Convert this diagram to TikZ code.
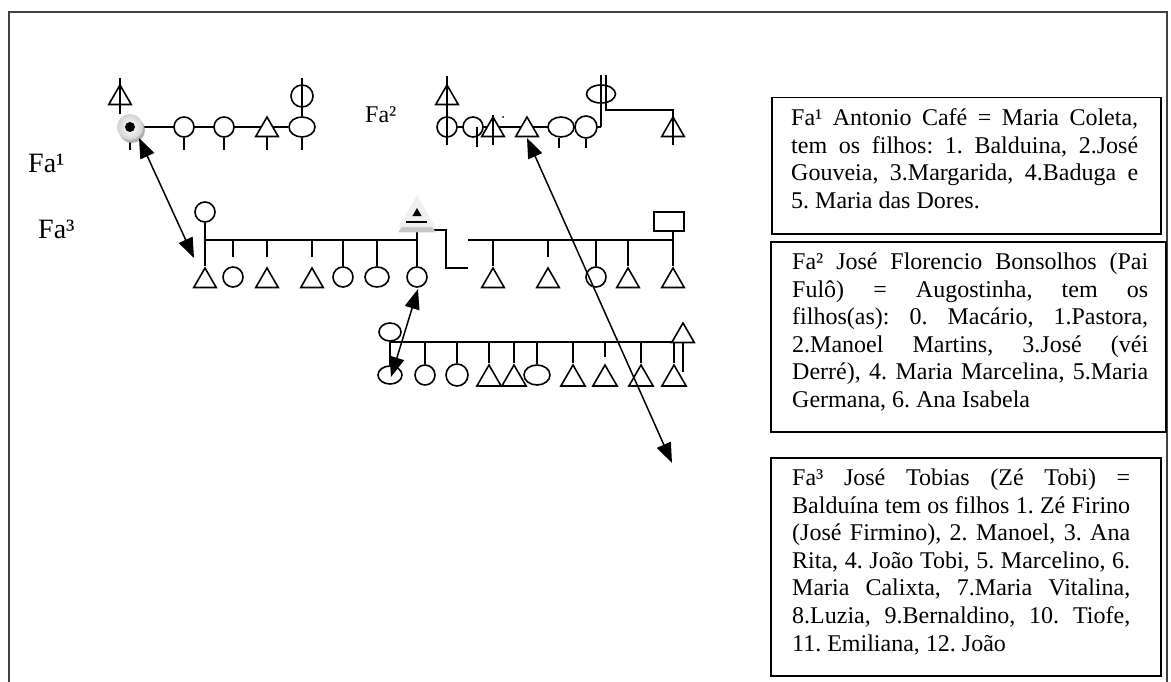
\documentclass[tikz,border=0pt]{standalone}
\usepackage{fontspec}
\setmainfont{Liberation Serif}
\usetikzlibrary{arrows.meta,shapes.geometric,shadows}
\pgfdeclarelayer{bg}
\pgfsetlayers{bg,main}
\newcommand\jl[1]{\makebox[\linewidth][s]{#1}}
\frenchspacing
\begin{document}
\begin{tikzpicture}[x=1pt,y=-1pt,
  ln/.style={line width=1.6pt},
  fem/.style={circle,draw,fill=white,line width=1.6pt,inner sep=0,minimum size=20pt},
  male/.style={regular polygon,regular polygon sides=3,draw,fill=white,line width=1.6pt,inner sep=0,minimum size=26pt},
  maleb/.style={male,minimum size=28pt},
  oval/.style={ellipse,draw,fill=white,line width=1.6pt,inner sep=0,minimum width=26pt,minimum height=20pt},
  arr/.style={line width=1.5pt,{Triangle[length=20pt,width=15pt]}-{Triangle[length=20pt,width=15pt]}},
  box/.style={draw,line width=1.5pt,inner sep=0,anchor=north west},
  txt/.style={anchor=base west,inner sep=0,font=\fontsize{24}{27.6}\selectfont},
  big/.style={anchor=base west,inner sep=0,font=\fontsize{28}{32}\selectfont}]
\useasboundingbox (0,0) rectangle (1171,682);
\draw[line width=1.2pt,black!75] (9,700) -- (9,12) -- (1167,12) -- (1167,700);

% ---------- Fa1 family ----------
\node[male] (a1) at (120,98) {};
\node[circle,minimum size=26pt,inner sep=0,shading=radial,inner color=white,outer color=gray!35,
  drop shadow={shadow xshift=2pt,shadow yshift=-3pt,fill=gray!60,opacity=1}] (ego) at (130,127) {};
\node[circle,fill=black,inner sep=0,minimum size=10pt] (egod) at (ego) {};
\node[fem] (c1) at (184,127) {};
\node[fem] (c2) at (224,127) {};
\node[male] (t1) at (267,130) {};
\node[oval] (e1) at (302,127) {};
\node[fem,minimum size=22pt] (f0) at (302,96) {};
\coordinate (a1top) at (120,78);
\coordinate (f0top) at (302,78);

% ---------- Fa2 family ----------
\node[male] (a2) at (447,98) {};
\node[fem] (b1) at (447,127) {};
\node[fem] (b2) at (473,127) {};
\node[male] (b3) at (493,130) {};
\node[circle,fill=black,inner sep=0,minimum size=2pt] (dot) at (503,117) {};
\node[male] (b4) at (527,130) {};
\node[oval] (b5) at (561,127) {};
\node[fem,minimum size=22pt] (b6) at (586,127) {};
\node[oval,minimum width=29pt,minimum height=18pt] (b7) at (601,94) {};
\node[male] (b8) at (673,130) {};
\coordinate (j1) at (601,127);
\coordinate (k1) at (606,75);
\coordinate (k2) at (606,110);

% ---------- Fa3 family ----------
\node[fem] (m0) at (205,212) {};
\node[male] (d1) at (205,281) {};
\node[fem] (d2) at (233,277) {};
\node[male] (d3) at (267,281) {};
\node[male] (d4) at (312,281) {};
\node[fem] (d5) at (343,277) {};
\node[oval,minimum width=24pt] (d6) at (377,277) {};
\node[fem] (d7) at (417,277) {};
\node[regular polygon,regular polygon sides=3,inner sep=0,minimum size=43pt,fill=gray!12,
  drop shadow={shadow xshift=0pt,shadow yshift=-5pt,fill=gray!45,opacity=1}] (g) at (417,216.5) {};
\node[regular polygon,regular polygon sides=3,inner sep=0,minimum size=11pt,fill=black] (gi) at (417,213.5) {};
\coordinate (gu1) at (406,222);
\coordinate (gu2) at (427,222);
\node[male] (d8) at (493,281) {};
\node[male] (d9) at (548,281) {};
\node[fem] (d10) at (596,277) {};
\node[male] (d11) at (628,281) {};
\node[male] (d12) at (673,281) {};
\node[draw,line width=1.6pt,fill=white,minimum width=30pt,minimum height=19pt,inner sep=0] (r) at (669,221.5) {};
\coordinate (bar1) at (205,240);
\coordinate (bar2) at (417,240);
\coordinate (bar3) at (468,240);
\coordinate (bar4) at (673,240);
\coordinate (h1) at (427,230);
\coordinate (h2) at (468,268);

% ---------- lower family ----------
\node[oval,minimum width=22pt,minimum height=18pt] (l0) at (390,332) {};
\node[oval,minimum width=24pt,minimum height=18pt] (l1) at (390,375) {};
\node[fem] (l2) at (425,375) {};
\node[fem,minimum size=22pt] (l3) at (457,375) {};
\node[maleb] (l4) at (489,379) {};
\node[maleb] (l5) at (514,379) {};
\node[oval] (l6) at (537,375) {};
\node[maleb] (l7) at (573,379) {};
\node[maleb] (l8) at (605,379) {};
\node[maleb] (l9) at (641,379) {};
\node[maleb] (l10) at (674,379) {};
\node[male] (l11) at (683,336) {};
\coordinate (bar5) at (390,342);
\coordinate (bar6) at (692,342);

% ---------- connectors behind the symbols ----------
\begin{pgfonlayer}{bg}
\draw[ln] (ego) -- (e1);
\draw[ln] (ego) -- ++(0,23);
\draw[ln] (c1) -- ++(0,23);
\draw[ln] (c2) -- ++(0,23);
\draw[ln] (t1) -- ++(0,20);
\draw[ln] (e1) -- ++(0,23);
\draw[ln] (b1) -- (j1);
\draw[ln] (m0) -- (d1);
\draw[ln] (bar1) -- (bar2);
\draw[ln] (d2 |- bar1) -- ++(0,17);
\draw[ln] (d3 |- bar1) -- ++(0,17);
\draw[ln] (d4 |- bar1) -- ++(0,17);
\draw[ln] (d5 |- bar1) -- (d5.north);
\draw[ln] (d6 |- bar1) -- (d6.north);
\draw[ln] (g.south) -- (d7.north);
\draw[ln] (h1) -- ++(19,0) |- (h2);
\draw[ln] (bar3) -- (bar4);
\draw[ln] (d8 |- bar3) -- (d8.north);
\draw[ln] (d9 |- bar3) -- ++(0,17);
\draw[ln] (d10 |- bar3) -- (d10.north);
\draw[ln] (d11 |- bar3) -- (d11.north);
\draw[ln] (r.south -| d12) -- (d12.north);
\draw[ln] (l0) -- (l1);
\draw[ln] (bar5) -- (bar6);
\draw[ln] (l2 |- bar5) -- (l2.north);
\draw[ln] (l3 |- bar5) -- (l3.north);
\draw[ln] (l4 |- bar5) -- (l4.north);
\draw[ln] (l5 |- bar5) -- (l5.north);
\draw[ln] (l6 |- bar5) -- (l6.north);
\draw[ln] (l7 |- bar5) -- (l7.north);
\draw[ln] (l8 |- bar5) -- ++(0,15);
\draw[ln] (l9 |- bar5) -- (l9.north);
\draw[ln] (l10 |- bar5) -- (l10.north);
\end{pgfonlayer}

% ---------- lines drawn through symbols ----------
\draw[ln] (a1top) -- (a1top |- ego.north);
\draw[ln] (f0top) -- (e1.north);
\draw[ln] (a2.north) ++(0,-7) -- ++(0,69);
\draw[ln] (b2.center) ++(4,0) -- ++(0,20);
\draw[ln] (b3.north) -- ++(0,30);
\draw[ln] (b5.south) ++(-2,0) -- ++(0,10);
\draw[ln] (b6.south) -- ++(0,9);
\draw[ln] (j1) -- ++(0,-52);
\draw[ln] (k1) -- (k2) -| (b8.north) -- ++(0,30);
\draw[line width=2pt] (gu1) -- (gu2);
\draw[ln] (l11.south) -- ++(0,29);

% ---------- arrows ----------
\coordinate (p1) at (139,138);
\coordinate (q1) at (194,258);
\coordinate (p2) at (418,289);
\coordinate (q2) at (391,377);
\coordinate (p3) at (527,138);
\coordinate (q3) at (672,463);
\draw[arr] (p1) -- (q1);
\draw[arr] (p2) -- (q2);
\draw[arr] (p3) -- (q3);

% ---------- labels ----------
\node[big] (fa1) at (28,173) {Fa¹};
\node[big] (fa3) at (38,238) {Fa³};
\node[txt] (fa2) at (365,123) {Fa²};

% ---------- text boxes ----------
\node[box,minimum width=389pt,minimum height=136pt] (bx1) at (771,97) {};
\node[box,minimum width=395pt,minimum height=190pt] (bx2) at (770,241) {};
\node[box,minimum width=390pt,minimum height=218pt] (bx3) at (770,457) {};

\node[txt] (tx1) at (791,125.5) {\parbox[t]{347pt}{\fontsize{24}{27.6}\selectfont
\jl{Fa¹ Antonio Café = Maria Coleta,}\\
\jl{tem os filhos: 1. Balduina, 2.José}\\
\jl{Gouveia, 3.Margarida, 4.Baduga e}\\
5. Maria das Dores.}};

\node[txt] (tx2) at (792,269.5) {\parbox[t]{356pt}{\fontsize{24}{27.6}\selectfont
\jl{Fa² José Florencio Bonsolhos (Pai}\\
\jl{Fulô) = Augostinha, tem os}\\
\jl{filhos(as): 0. Macário, 1.Pastora,}\\
\jl{2.Manoel Martins, 3.José (véi}\\
\jl{Derré), 4. Maria Marcelina, 5.Maria}\\
Germana, 6. Ana Isabela}};

\node[txt] (tx3) at (792,485.5) {\parbox[t]{338pt}{\fontsize{24}{27.6}\selectfont
\jl{Fa³ José Tobias (Zé Tobi) =}\\
\jl{Balduína tem os filhos 1. Zé Firino}\\
\jl{(José Firmino), 2. Manoel, 3. Ana}\\
\jl{Rita, 4. João Tobi, 5. Marcelino, 6.}\\
\jl{Maria Calixta, 7.Maria Vitalina,}\\
\jl{8.Luzia, 9.Bernaldino, 10. Tiofe,}\\
11. Emiliana, 12. João}};
\end{tikzpicture}
\end{document}
